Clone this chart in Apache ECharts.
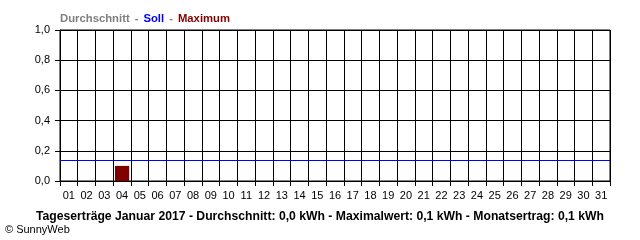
<!DOCTYPE html>
<html><head><meta charset="utf-8">
<script src="https://cdn.jsdelivr.net/npm/echarts@6/dist/echarts.min.js"></script>
<style>html,body{margin:0;padding:0;background:#fff}#c{width:640px;height:240px}</style>
</head><body><div id="c"></div>
<script>
var days = ['01','02','03','04','05','06','07','08','09','10','11','12','13','14','15','16','17','18','19','20','21','22','23','24','25','26','27','28','29','30','31'];
var maximum = [0,0,0,0.1,0,0,0,0,0,0,0,0,0,0,0,0,0,0,0,0,0,0,0,0,0,0,0,0,0,0,0];
var soll = 0.14;
var yTicks = [0,0.2,0.4,0.6,0.8,1.0];
var titleText = 'Tageserträge Januar 2017 - Durchschnitt: 0,0 kWh - Maximalwert: 0,1 kWh - Monatsertrag: 0,1 kWh';

var chart = echarts.init(document.getElementById('c'), null, {renderer:'canvas'});
var F = 'Liberation Sans, Arial, sans-serif';
chart.setOption({
  animation:false,
  backgroundColor:'#fff',
  title:[{
    left:60, top:10, padding:0,
    text:'{g|Durchschnitt} {g|-} {b|Soll} {g|-} {r|Maximum}',
    textStyle:{rich:{
      g:{color:'#808080',fontWeight:'bold',fontSize:11.3,fontFamily:F},
      b:{color:'#0000ff',fontWeight:'bold',fontSize:11.3,fontFamily:F},
      r:{color:'#800000',fontWeight:'bold',fontSize:11.3,fontFamily:F}
    }}
  },{
    left:'center', top:211, padding:0,
    text:titleText,
    textStyle:{color:'#000',fontWeight:'bold',fontSize:12.2,fontFamily:F}
  },{
    left:5, top:224, padding:0,
    text:'© SunnyWeb',
    textStyle:{color:'#000',fontWeight:'normal',fontSize:11,fontFamily:F}
  }],
  grid:{left:60,right:30,top:30,bottom:59,containLabel:false,show:true,borderColor:'#000',borderWidth:1},
  xAxis:{
    type:'category', data:days, boundaryGap:true,
    axisLine:{show:true,lineStyle:{color:'#000',width:1}},
    axisTick:{show:true,length:5,lineStyle:{color:'#000'}},
    axisLabel:{color:'#000',fontSize:11,fontFamily:F,margin:9,interval:0},
    splitLine:{show:true,lineStyle:{color:'#000',width:1}}
  },
  yAxis:{
    type:'value', min:0, max:1, interval:0.2,
    axisLine:{show:true,lineStyle:{color:'#000'}},
    axisTick:{show:true,length:5,lineStyle:{color:'#000'}},
    axisLabel:{color:'#000',fontSize:11,fontFamily:F,margin:10,
      formatter:function(v){return v.toFixed(1).replace('.',',');}},
    splitLine:{show:true,lineStyle:{color:'#000',width:1}}
  },
  series:[{
    type:'bar', data:maximum, barWidth:'80%',
    itemStyle:{color:'#800000'},
    markLine:{
      silent:true, symbol:['none','none'], label:{show:false},
      lineStyle:{color:'#0000ff',type:'solid',width:1},
      data:[{yAxis:soll}]
    }
  }]
});
</script></body></html>
